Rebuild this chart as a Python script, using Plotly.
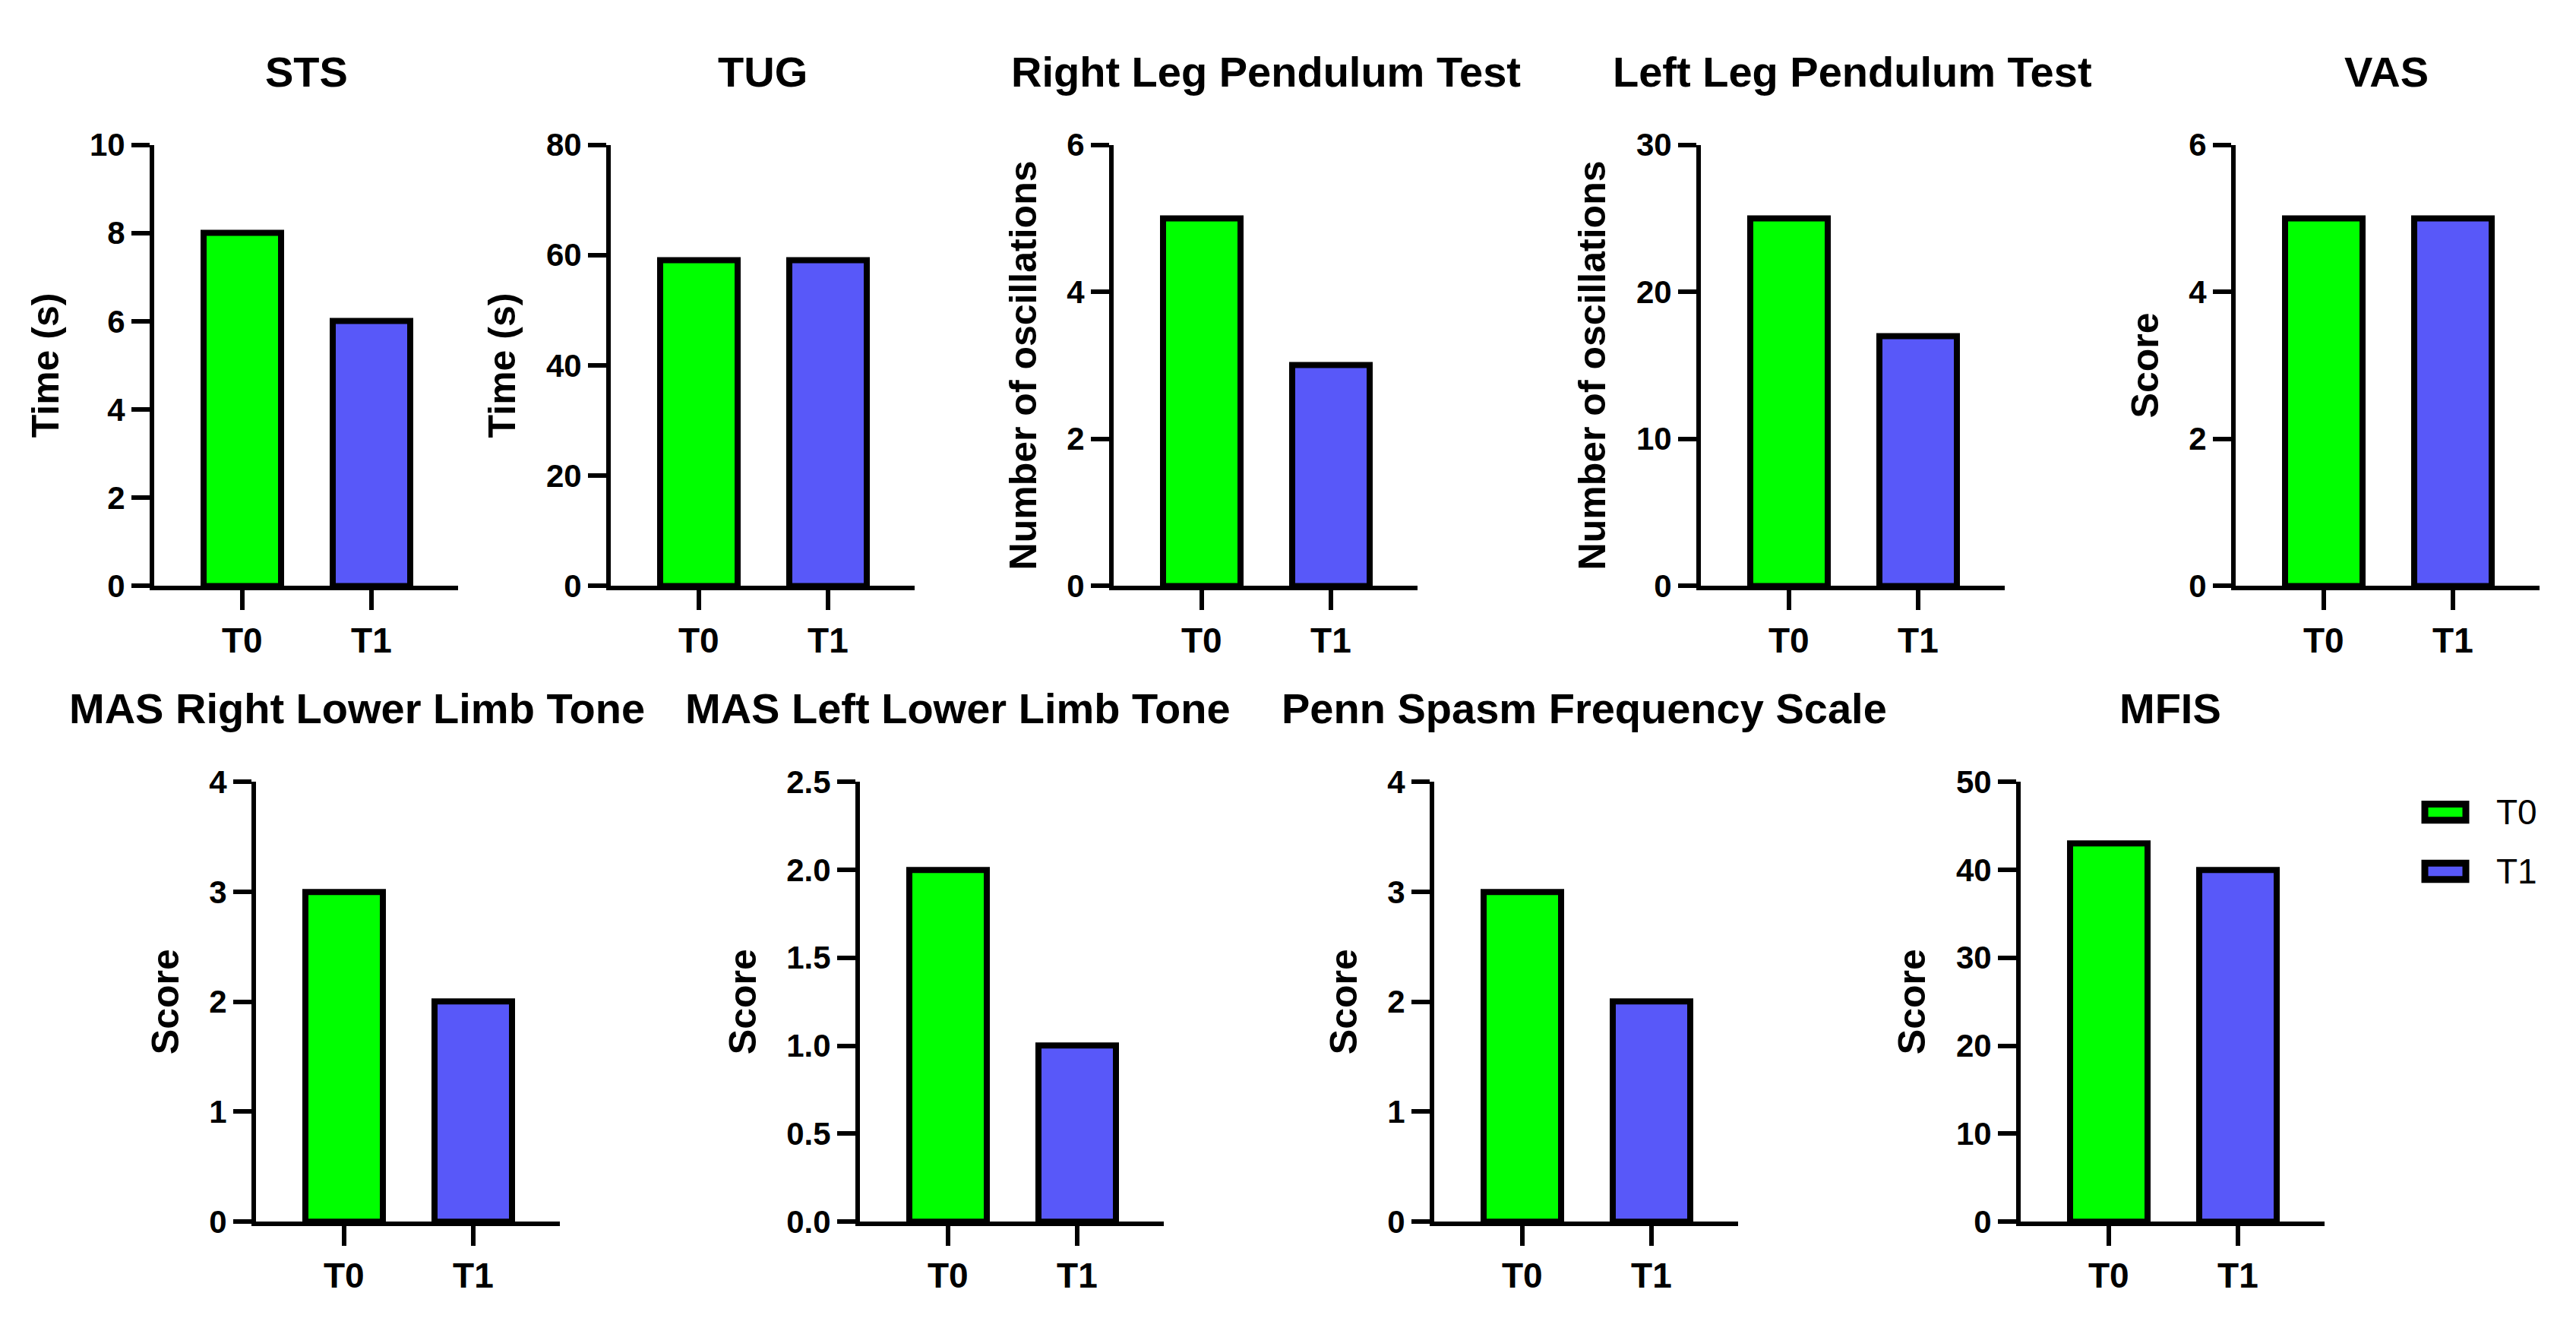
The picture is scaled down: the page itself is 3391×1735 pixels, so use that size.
import plotly.graph_objects as go

# data
panel_titles = [
    "STS", "TUG", "Right Leg Pendulum Test", "Left Leg Pendulum Test", "VAS",
    "MAS Right Lower Limb Tone", "MAS Left Lower Limb Tone",
    "Penn Spasm Frequency Scale", "MFIS",
]
timepoints = ["T0", "T1"]
t0_values = [8, 59, 5, 25, 5, 3, 2, 3, 43]
t1_values = [6, 59, 3, 17, 5, 2, 1, 2, 40]
y_titles = [
    "Time (s)", "Time (s)", "Number of oscillations", "Number of oscillations",
    "Score", "Score", "Score", "Score", "Score",
]
y_max = [10, 80, 6, 30, 6, 4, 2.5, 4, 50]
y_step = [2, 20, 2, 10, 2, 1, 0.5, 1, 10]
y_format = ["d", "d", "d", "d", "d", "d", ".1f", "d", "d"]

# layout (pixels of the 3391x1735 page)
W, H = 3391, 1735
PANEL_W = 400
left_px = [195, 796, 1458, 2231, 2935, 329, 1124, 1880, 2652]
row_of = [0, 0, 0, 0, 0, 1, 1, 1, 1]
row_top = [164, 1026]
row_bottom = [761, 1621]
title_x = [395, 996, 1658, 2430, 3133, 462, 1253, 2077, 2849]
title_y = [65, 927]

GREEN = "#00FF00"
BLUE = "#5858F9"
FONT = "Liberation Sans, Arial, sans-serif"

fig = go.Figure()
layout = {}

for i, name in enumerate(panel_titles):
    n = i + 1
    fig.add_trace(go.Bar(
        x=timepoints,
        y=[t0_values[i], t1_values[i]],
        width=0.6,
        marker=dict(color=[GREEN, BLUE], line=dict(color="black", width=8)),
        xaxis=f"x{n}",
        yaxis=f"y{n}",
        showlegend=False,
        name=name,
    ))
    r = row_of[i]
    layout[f"xaxis{n}"] = dict(
        domain=[left_px[i] / W, (left_px[i] + PANEL_W) / W],
        anchor=f"y{n}",
        type="category",
        range=[-0.68, 1.67],
        showline=True, linewidth=6, linecolor="black",
        ticks="outside", ticklen=26, tickwidth=6, tickcolor="black",
        tickfont=dict(family=FONT, size=46, color="black", weight="bold"),
        showgrid=False, zeroline=False, fixedrange=True,
    )
    layout[f"yaxis{n}"] = dict(
        domain=[1 - row_bottom[r] / H, 1 - row_top[r] / H],
        anchor=f"x{n}",
        range=[0, y_max[i]],
        tick0=0, dtick=y_step[i], tickformat=y_format[i],
        showline=True, linewidth=6, linecolor="black",
        ticks="outside", ticklen=24, tickwidth=6, tickcolor="black",
        tickfont=dict(family=FONT, size=42, color="black", weight="bold"),
        title=dict(text=y_titles[i], standoff=26,
                   font=dict(family=FONT, size=50, color="black", weight="bold")),
        showgrid=False, zeroline=False, fixedrange=True,
    )

annotations = []
for i, name in enumerate(panel_titles):
    annotations.append(dict(
        text=name, x=title_x[i] / W, y=1 - title_y[row_of[i]] / H,
        xref="paper", yref="paper", xanchor="center", yanchor="middle",
        showarrow=False,
        font=dict(family=FONT, size=56, color="black", weight="bold"),
    ))

# legend drawn by hand so the swatches match the wide framed boxes
shapes = []
legend_y = [1067, 1147]
for label, color, yc in zip(timepoints, [GREEN, BLUE], legend_y):
    shapes.append(dict(
        type="rect", xref="paper", yref="paper",
        x0=3184 / W, x1=3238 / W, y0=1 - (yc - 11) / H, y1=1 - (yc + 11) / H,
        fillcolor=color, line=dict(color="black", width=9),
    ))
    annotations.append(dict(
        text=label, x=3276 / W, y=1 - yc / H,
        xref="paper", yref="paper", xanchor="left", yanchor="middle",
        showarrow=False,
        font=dict(family=FONT, size=46, color="black"),
    ))

fig.update_layout(
    **layout,
    annotations=annotations,
    shapes=shapes,
    width=W, height=H,
    margin=dict(l=0, r=0, t=0, b=0),
    paper_bgcolor="white", plot_bgcolor="white",
    bargap=0,
)

fig.write_html("out.html")
